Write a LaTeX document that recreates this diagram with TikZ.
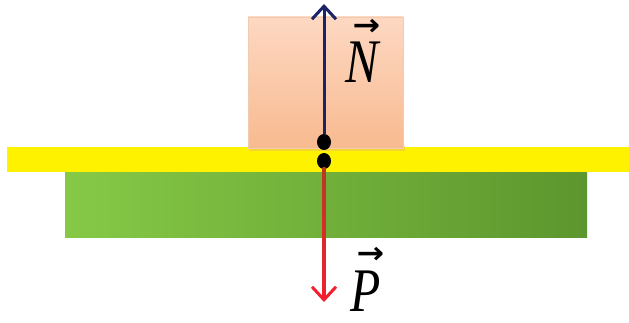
\documentclass[tikz,border=0pt]{standalone}
\usepackage{fontspec}
\usepackage{graphicx}
\usetikzlibrary{arrows.meta,shapes.geometric}
\newfontfamily\letterfont{Liberation Serif}
\newfontfamily\arrowfont{DejaVu Sans}
\definecolor{peachtop}{HTML}{FDD8C2}
\definecolor{peachbot}{HTML}{F8BA90}
\definecolor{peachedge}{HTML}{E8A878}
\definecolor{grnl}{HTML}{86C946}
\definecolor{grnd}{HTML}{5C962E}
\definecolor{navy}{HTML}{1B2466}
\definecolor{redtop}{HTML}{B83A22}
\definecolor{redbot}{HTML}{F2202E}
\newcommand{\vecletter}[1]{\vbox{\offinterlineskip\lineskiplimit=-100pt\halign{\hfil##\hfil\cr
  \hskip9pt{\fontsize{30}{30}\arrowfont\bfseries\scalebox{1.1}[1]{→}}\cr
  \noalign{\vskip7pt}
  {\fontsize{62}{62}\letterfont\itshape\scalebox{0.8}[1]{#1}}\cr}}}
\tikzset{
  slab/.style={inner sep=0pt, outer sep=0pt, anchor=north west},
  dotmark/.style={ellipse, fill=black, inner sep=0pt, minimum width=14pt, minimum height=16pt},
  force/.style={line width=3pt, -{Straight Barb[length=13pt,width=24pt,line width=3pt]}},
  lbl/.style={inner sep=0pt, anchor=base}
}
\begin{document}
\begin{tikzpicture}[x=1pt,y=-1pt]
\useasboundingbox (0,0) rectangle (629,323);
\fill[white] (0,0) rectangle (629,323);
% green slab
\node[slab, minimum width=522pt, minimum height=65pt, left color=grnl, right color=grnd] (ground) at (65,172) {};
% yellow surface
\node[slab, minimum width=622pt, minimum height=25pt, fill=yellow] (surface) at (7,147) {};
% box shadow
\fill[peachedge!70!yellow, opacity=0.6] (250,146) rectangle (405,151);
% box
\node[slab, minimum width=155pt, minimum height=131pt, top color=peachtop, bottom color=peachbot, draw=peachedge!60, line width=0.6pt] (box) at (248,17) {};
% points
\node[dotmark] (d1) at (324,142) {};
\node[dotmark] (d2) at (324,161) {};
\coordinate (ntip) at (324,4);
\coordinate (ptip) at (324,302);
% forces
\draw[force, draw=navy] (d1) -- (ntip);
\shade[top color=redtop, bottom color=redbot] (322.5,168) rectangle (325.5,296);
\draw[force, draw=redbot] (324,290) -- (ptip);
\node[lbl] (N) at (362,83) {\vecletter{N}};
\node[lbl] (P) at (366,311) {\vecletter{P}};
\end{tikzpicture}
\end{document}
